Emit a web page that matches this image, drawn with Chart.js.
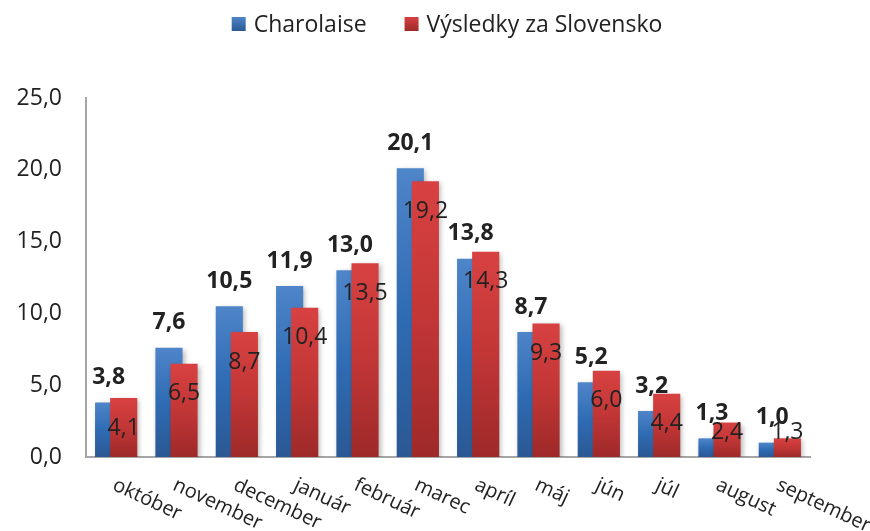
<!DOCTYPE html>
<html>
<head>
<meta charset="utf-8">
<script src="https://cdn.jsdelivr.net/npm/chart.js@4/dist/chart.umd.min.js"></script>
<style>
html,body{margin:0;padding:0;background:#fff;}
#wrap{width:870px;height:531px;position:relative;}
</style>
</head>
<body>
<div id="wrap"><canvas id="c" width="870" height="531"></canvas></div>
<script>
const categories = ['október','november','december','január','február','marec','apríl','máj','jún','júl','august','september'];
const charolaise = [3.8, 7.6, 10.5, 11.9, 13.0, 20.1, 13.8, 8.7, 5.2, 3.2, 1.3, 1.0];
const slovensko = [4.1, 6.5, 8.7, 10.4, 13.5, 19.2, 14.3, 9.3, 6.0, 4.4, 2.4, 1.3];
const seriesNames = ['Charolaise', 'Výsledky za Slovensko'];
const yTickLabels = ['0,0', '5,0', '10,0', '15,0', '20,0', '25,0'];

const FONT = '"Open Sans", "DejaVu Sans", sans-serif';
const TEXT = '#222222';
const blueStops = ['#4f85c9', '#2f6cb4', '#2a5894'];
const redStops = ['#d84141', '#c23636', '#9e2929'];

function barGradient(stops) {
  return function (ctx) {
    const chart = ctx.chart;
    const y = chart.scales && chart.scales.y;
    if (!chart.chartArea || !y || ctx.raw === undefined) return stops[1];
    const top = y.getPixelForValue(ctx.raw);
    const bottom = y.getPixelForValue(0);
    const g = chart.ctx.createLinearGradient(0, top, 0, bottom);
    g.addColorStop(0, stops[0]);
    g.addColorStop(0.5, stops[1]);
    g.addColorStop(1, stops[2]);
    return g;
  };
}

const fmt = v => v.toFixed(1).replace('.', ',');

function setShadow(c) {
  c.shadowColor = 'rgba(0,0,0,0.28)';
  c.shadowBlur = 5;
  c.shadowOffsetX = 2;
  c.shadowOffsetY = 2;
}

// Draw the first series (Charolaise) beneath the second one, as in the reference.
const drawOrderPlugin = {
  id: 'drawOrder',
  beforeDatasetsDraw(chart) {
    const meta = chart.getDatasetMeta(0);
    const a = chart.chartArea;
    const c = chart.ctx;
    c.save();
    c.beginPath();
    c.rect(a.left, a.top - 2, a.right - a.left, a.bottom - a.top + 2);
    c.clip();
    setShadow(c);
    meta.controller.draw();
    c.restore();
  },
  beforeDatasetDraw(chart, args) {
    if (args.index === 0) return false;
    chart.ctx.save();
    setShadow(chart.ctx);
  },
  afterDatasetDraw(chart, args) {
    if (args.index !== 0) chart.ctx.restore();
  }
};

const labelPlugin = {
  id: 'valueLabels',
  afterDatasetsDraw(chart) {
    const c = chart.ctx;
    const base = chart.scales.y.getPixelForValue(0);
    c.save();
    c.textAlign = 'center';
    c.textBaseline = 'middle';
    c.fillStyle = TEXT;
    const m1 = chart.getDatasetMeta(1);
    c.font = '23px ' + FONT;
    m1.data.forEach((el, i) => {
      const y = Math.min(el.y + 30, base - 25);
      c.fillText(fmt(slovensko[i]), el.x, y);
    });
    const m0 = chart.getDatasetMeta(0);
    c.font = 'bold 23px ' + FONT;
    m0.data.forEach((el, i) => {
      c.fillText(fmt(charolaise[i]), el.x, el.y - 25);
    });
    c.restore();
  }
};

const xLabelPlugin = {
  id: 'slantedXLabels',
  afterDraw(chart) {
    const c = chart.ctx;
    const xs = chart.scales.x;
    c.save();
    c.font = '20px ' + FONT;
    c.fillStyle = TEXT;
    c.textAlign = 'left';
    c.textBaseline = 'top';
    categories.forEach((lab, i) => {
      const x = xs.getPixelForTick(i);
      c.save();
      c.translate(x + 2, 475);
      c.rotate(25 * Math.PI / 180);
      c.fillText(lab, 0, 0);
      c.restore();
    });
    c.restore();
  }
};

const legendPlugin = {
  id: 'topLegend',
  afterDraw(chart) {
    const c = chart.ctx;
    c.save();
    c.font = '23px ' + FONT;
    c.textBaseline = 'middle';
    c.textAlign = 'left';
    const box = 14, gapText = 8, gapItems = 38;
    const w0 = c.measureText(seriesNames[0]).width;
    const w1 = c.measureText(seriesNames[1]).width;
    const total = box + gapText + w0 + gapItems + box + gapText + w1;
    let x = 447 - total / 2;
    const cy = 24;
    const items = [[seriesNames[0], blueStops, w0], [seriesNames[1], redStops, w1]];
    items.forEach(([name, stops, w]) => {
      const g = c.createLinearGradient(0, cy - box / 2, 0, cy + box / 2);
      g.addColorStop(0, stops[0]);
      g.addColorStop(1, stops[2]);
      c.fillStyle = g;
      c.fillRect(x, cy - box / 2, box, box);
      x += box + gapText;
      c.fillStyle = TEXT;
      c.fillText(name, x, cy + 1);
      x += w + gapItems;
    });
    c.restore();
  }
};

new Chart(document.getElementById('c'), {
  type: 'bar',
  data: {
    labels: categories,
    datasets: [
      {
        label: seriesNames[0],
        data: charolaise,
        backgroundColor: barGradient(blueStops),
        borderWidth: 0,
        categoryPercentage: 0.5,
        barPercentage: 1.8
      },
      {
        label: seriesNames[1],
        data: slovensko,
        backgroundColor: barGradient(redStops),
        borderWidth: 0,
        categoryPercentage: 0.5,
        barPercentage: 1.8
      }
    ]
  },
  options: {
    responsive: false,
    animation: false,
    devicePixelRatio: 1,
    layout: { padding: { top: 98, right: 60, bottom: 74, left: 0 } },
    plugins: {
      legend: { display: false },
      tooltip: { enabled: false }
    },
    scales: {
      x: {
        grid: { display: false },
        ticks: { display: false },
        border: { display: true, color: '#a6a6a6', width: 2 },
        afterFit(scale) { scale.height = 0; }
      },
      y: {
        min: 0,
        max: 25,
        grid: { display: false },
        border: { display: true, color: '#a6a6a6', width: 2 },
        ticks: {
          stepSize: 5,
          padding: 16,
          color: TEXT,
          font: { family: FONT, size: 23 },
          callback: (v, i) => yTickLabels[i]
        },
        afterFit(scale) { scale.width = 86; }
      }
    }
  },
  plugins: [drawOrderPlugin, labelPlugin, xLabelPlugin, legendPlugin]
});
</script>
</body>
</html>
